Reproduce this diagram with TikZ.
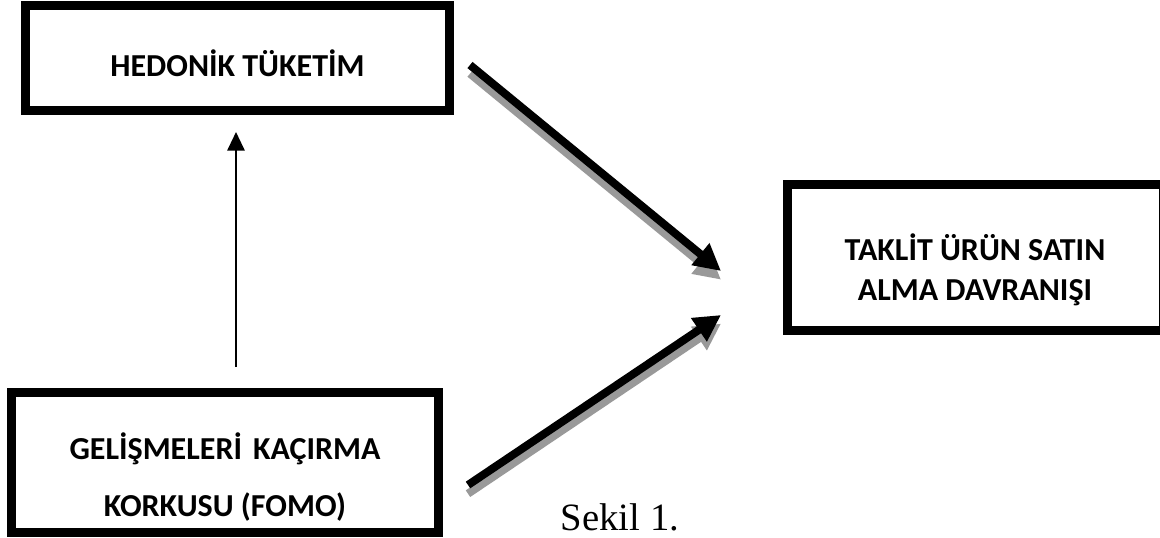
\documentclass[tikz,border=0pt]{standalone}
\usepackage{fontspec}
\setmainfont{Liberation Serif}
\newfontfamily\calfont{Carlito}
\usetikzlibrary{arrows.meta, positioning}
\tikzset{
	varbox/.style={draw, rectangle, line width=6.75pt, inner sep=0pt},
	vartext/.style={font=\calfont\bfseries\fontsize{24}{29}\selectfont, align=center, inner sep=0pt},
	fatarrow/.style={line width=6pt, -{Triangle[length=20pt, width=20pt]}},
	thinarrow/.style={line width=1.5pt, -{Triangle[length=14pt, width=13pt]}},
}

\begin{document}
\begin{tikzpicture}[x=0.75pt, y=-0.75pt]
	\useasboundingbox (0,0) rectangle (1160,538);
	\clip (0,0) rectangle (1160,538);
	
	\node (hedonik) [varbox, minimum width=318pt, minimum height=78.75pt] at (237,58.5) {};
	\node (taklit) [varbox, minimum width=282pt, minimum height=109.5pt] at (975.5,257.5) {};
	\node (fomo) [varbox, minimum width=320.25pt, minimum height=105pt] at (225,462.5) {};
	
	\node (hedoniklbl) [vartext] at (237.5,63) {HEDONİK TÜKETİM};
	\node (taklitlbl) [vartext] at (975,270) {TAKLİT ÜRÜN SATIN\\[1pt]ALMA DAVRANIŞI};
	\node (fomolbl) [vartext] at (225,477) {GELİŞMELERİ\hspace{0.12em} KAÇIRMA\\[14pt]KORKUSU (FOMO)};
	
	\node (caption) [font=\fontsize{29}{33}\selectfont, anchor=base, inner sep=0pt] at (620,530) {Sekil 1.};
	
	\coordinate (h1) at (470,65);
	\coordinate (t1) at (721,271);
	\coordinate (f1) at (468,485);
	\coordinate (t2) at (721,315);
	\coordinate (f0) at (236,367);
	\coordinate (h0) at (236,132);
	
	% shadows
	\begin{scope}[transform canvas={yshift=-6.5pt}, black!40]
		\draw[fatarrow] (h1) -- (t1);
		\draw[fatarrow] (f1) -- (t2);
	\end{scope}
	
	\begin{scope}[black]
		\draw[fatarrow] (h1) -- (t1);
		\draw[fatarrow] (f1) -- (t2);
		\draw[thinarrow] (f0) -- (h0);
	\end{scope}
\end{tikzpicture}
\end{document}
